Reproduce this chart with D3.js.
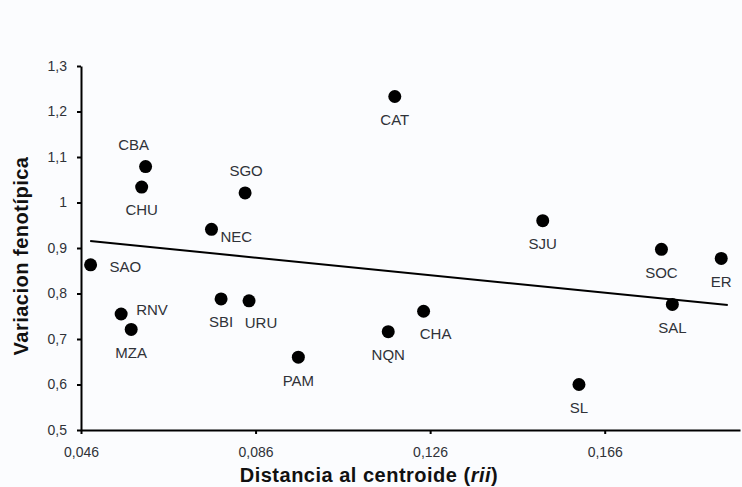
<!DOCTYPE html>
<html>
<head>
<meta charset="utf-8">
<script src="https://cdn.jsdelivr.net/npm/d3@7"></script>
<style>
    body { margin: 0; background: #fbfcfe; }
    svg { display: block; }
    text { font-family: "Liberation Sans", Arial, sans-serif; fill: #2f3238; }
</style>
</head>
<body>
<div id="chart"></div>
<script>
// population codes and their values
var names = ["CBA", "CHU", "SGO", "NEC", "CAT", "SJU", "SOC", "ER", "SAL",
    "SAO", "RNV", "MZA", "SBI", "URU", "PAM", "NQN", "CHA", "SL"];
var distancia = [0.0608, 0.0599, 0.0836, 0.0759, 0.1179, 0.1518, 0.1790, 0.1927, 0.1815,
    0.0482, 0.0552, 0.0575, 0.0781, 0.0845, 0.0958, 0.1164, 0.1245, 0.1601];
var variacion = [1.079, 1.034, 1.021, 0.941, 1.233, 0.960, 0.897, 0.877, 0.776,
    0.863, 0.755, 0.721, 0.788, 0.784, 0.660, 0.716, 0.761, 0.600];

// where each label sits relative to its point
var labelPos = ["above-left", "below", "above", "right-low", "below", "below", "below", "below", "below",
    "right", "right-up", "below", "below", "below-right", "below", "below", "below-right", "below"];

// trend line end points
var trendX = [0.0481, 0.1942];
var trendY = [0.9154, 0.7747];

var xTicks = [0.046, 0.086, 0.126, 0.166];
var yTicks = [0.5, 0.6, 0.7, 0.8, 0.9, 1.0, 1.1, 1.2, 1.3];

var width = 742, height = 487;
var margin = { top: 66, right: 2, bottom: 57, left: 81 };

var svg = d3.select("#chart").append("svg")
    .attr("width", width)
    .attr("height", height);

var x = d3.scaleLinear().domain([0.046, 0.197]).range([margin.left, width - margin.right]);
var y = d3.scaleLinear().domain([0.5, 1.3]).range([height - margin.bottom, margin.top]);

var fmt = function (v) {
    return String(+v.toFixed(3)).replace(".", ",");
}

// axes
var xAxis = svg.append("g")
    .attr("transform", "translate(0," + y(0.5) + ")")
    .call(d3.axisBottom(x).tickValues(xTicks).tickFormat(fmt).tickSizeInner(4).tickSizeOuter(0).tickPadding(13));
var yAxis = svg.append("g")
    .attr("transform", "translate(" + x(0.046) + ",0)")
    .call(d3.axisLeft(y).tickValues(yTicks).tickFormat(fmt).tickSizeInner(4).tickSizeOuter(0).tickPadding(10));

[xAxis, yAxis].forEach(function (g) {
    g.select(".domain").attr("stroke", "#000").attr("stroke-width", 2);
    g.selectAll(".tick line").attr("stroke", "#000").attr("stroke-width", 2);
    g.selectAll(".tick text").style("font-size", "14px").attr("fill", "#2f3238");
});

// trend line
svg.append("line")
    .attr("x1", x(trendX[0]))
    .attr("y1", y(trendY[0]))
    .attr("x2", x(trendX[1]))
    .attr("y2", y(trendY[1]))
    .attr("stroke", "#000")
    .attr("stroke-width", 2);

// points
var points = names.map(function (n, i) {
    return { name: n, x: distancia[i], y: variacion[i], pos: labelPos[i] };
});

svg.append("g").selectAll("circle")
    .data(points)
    .enter().append("circle")
    .attr("cx", function (d) { return x(d.x); })
    .attr("cy", function (d) { return y(d.y); })
    .attr("r", 6.5)
    .attr("fill", "#000");

var offsets = {
    "below": [0, 23, "middle"],
    "above": [1, -22, "middle"],
    "above-left": [-12, -22, "middle"],
    "below-right": [12, 22, "middle"],
    "right": [19, 2, "start"],
    "right-up": [15, -4, "start"],
    "right-low": [9, 7, "start"]
};

svg.append("g").selectAll("text")
    .data(points)
    .enter().append("text")
    .attr("x", function (d) { return x(d.x) + offsets[d.pos][0]; })
    .attr("y", function (d) { return y(d.y) + offsets[d.pos][1]; })
    .attr("dy", "0.36em")
    .attr("text-anchor", function (d) { return offsets[d.pos][2]; })
    .style("font-size", "15px")
    .text(function (d) { return d.name; });

// axis titles
var xTitle = svg.append("text")
    .attr("x", 369)
    .attr("y", 482)
    .attr("text-anchor", "middle")
    .style("font-size", "20px")
    .style("font-weight", "bold")
    .style("letter-spacing", "0.5px")
    .style("fill", "#111");
xTitle.append("tspan").text("Distancia al centroide (");
xTitle.append("tspan").style("font-style", "italic").text("rii");
xTitle.append("tspan").text(")");

svg.append("text")
    .attr("transform", "translate(28,256) rotate(-90)")
    .attr("text-anchor", "middle")
    .style("font-size", "20px")
    .style("font-weight", "bold")
    .style("letter-spacing", "0.5px")
    .style("fill", "#111")
    .text("Variacion fenotípica");
</script>
</body>
</html>
